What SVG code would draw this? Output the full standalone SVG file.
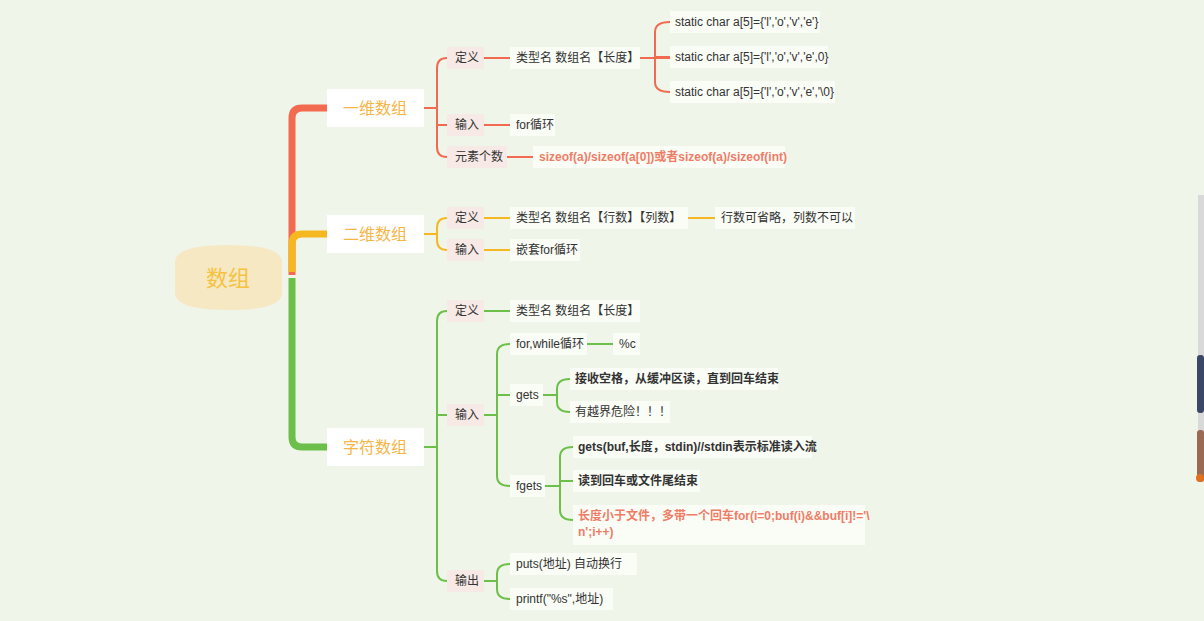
<svg xmlns="http://www.w3.org/2000/svg" width="1204" height="621" viewBox="0 0 1204 621">
<style>
text{font-family:"Liberation Sans","Noto Sans CJK SC",sans-serif;font-size:12px;fill:#333;dominant-baseline:central}
.b{fill:#fafcf6}
.l{fill:#f7e9e6}
.bold{font-weight:bold}
.rt{fill:#ef7c66;font-weight:bold}
.h{font-size:16px;text-anchor:middle}
.r{stroke:#f26b50}.y{stroke:#f5b820}.g{stroke:#6cc04a}
#c path{fill:none;stroke-width:2}
</style>
<rect width="1204" height="621" fill="#f0f5e9"/>
<rect x="1198" y="195" width="6" height="285" fill="#d9d9d9"/>
<rect x="1197" y="355" width="7" height="58" rx="3" fill="#3b4766"/>
<rect x="1197" y="430" width="7" height="52" rx="3" fill="#9a6a55"/>
<circle cx="1200" cy="478" r="4" fill="#e2701f"/>
<g id="c">
<path class="r" d="M292 275V118Q292 108 302 108H327" style="stroke-width:7"/>
<path class="y" d="M292 272V244Q292 234 302 234H327" style="stroke-width:7"/>
<path class="g" d="M292 278V437Q292 447 302 447H327" style="stroke-width:7"/>
<path class="r" d="M424 108H437M447 58H447Q437 58 437 68V147Q437 157 447 157M437 125H447M484 58H510M484 125H510M507 157H533M640 58H670M670 22Q655 22 655 32V82Q655 92 670 92M655 57H670"/>
<path class="y" d="M424 234H437M447 218Q437 218 437 228V240Q437 250 447 250M484 218H510M484 250H510M688 218H715"/>
<path class="g" d="M424 447H437M447 311Q437 311 437 321V571Q437 581 447 581M437 415H447M484 311H510M484 415H497M510 344Q497 344 497 354V476Q497 486 510 486M497 395H510M587 344H613M543 395H557M570 379Q557 379 557 389V402Q557 412 570 412M545 486H560M573 447Q560 447 560 457V510Q560 520 573 520M560 481H573M484 581H497M510 564Q497 564 497 574V589Q497 599 510 599"/>
</g>
<g id="root"><path d="M175 262Q175 245 228 245Q282 245 282 262V293Q282 310 228 310Q175 310 175 293Z" fill="#f6e8c3"/><text x="228" y="278" class="h" style="font-size:22px;fill:#f5c242">数组</text></g>
<g id="n1"><rect x="327" y="89" width="97" height="38" fill="#fff"/><text x="375" y="108" class="h" style="fill:#f5b547">一维数组</text></g>
<g id="n2"><rect x="327" y="215" width="97" height="38" fill="#fff"/><text x="375" y="234" class="h" style="fill:#f5b547">二维数组</text></g>
<g id="n3"><rect x="327" y="428" width="97" height="38" fill="#fff"/><text x="375" y="447" class="h" style="fill:#f5b547">字符数组</text></g>
<g id="a1"><rect class="l" x="447" y="47" width="37" height="22"/><text x="455" y="58">定义</text></g>
<g id="a2"><rect class="b" x="510" y="47" width="130" height="22"/><text x="516" y="58">类型名  数组名【长度】</text></g>
<g id="a3"><rect class="b" x="670" y="11" width="150" height="22"/><text x="675" y="22">static char a[5]={'l','o','v','e'}</text></g>
<g id="a4"><rect class="b" x="670" y="46" width="158" height="22"/><text x="675" y="57">static char a[5]={'l','o','v','e',0}</text></g>
<g id="a5"><rect class="b" x="670" y="81" width="165" height="22"/><text x="675" y="92">static char a[5]={'l','o','v','e','\0}</text></g>
<g id="a6"><rect class="l" x="447" y="114" width="37" height="22"/><text x="455" y="125">输入</text></g>
<g id="a7"><rect class="b" x="510" y="114" width="45" height="22"/><text x="516" y="125">for循环</text></g>
<g id="a8"><rect class="l" x="447" y="146" width="60" height="22"/><text x="455" y="157">元素个数</text></g>
<g id="a9"><rect class="b" x="533" y="146" width="252" height="22"/><text x="539" y="157" class="rt">sizeof(a)/sizeof(a[0])或者sizeof(a)/sizeof(int)</text></g>
<g id="b1"><rect class="l" x="447" y="207" width="37" height="22"/><text x="455" y="218">定义</text></g>
<g id="b2"><rect class="b" x="510" y="207" width="178" height="22"/><text x="516" y="218">类型名  数组名【行数】【列数】</text></g>
<g id="b3"><rect class="b" x="715" y="207" width="140" height="22"/><text x="721" y="218">行数可省略，列数不可以</text></g>
<g id="b4"><rect class="l" x="447" y="239" width="37" height="22"/><text x="455" y="250">输入</text></g>
<g id="b5"><rect class="b" x="510" y="239" width="70" height="22"/><text x="516" y="250">嵌套for循环</text></g>
<g id="c1"><rect class="l" x="447" y="300" width="37" height="22"/><text x="455" y="311">定义</text></g>
<g id="c2"><rect class="b" x="510" y="300" width="130" height="22"/><text x="516" y="311">类型名  数组名【长度】</text></g>
<g id="c3"><rect class="l" x="447" y="404" width="37" height="22"/><text x="455" y="415">输入</text></g>
<g id="c4"><rect class="b" x="510" y="333" width="77" height="22"/><text x="516" y="344">for,while循环</text></g>
<g id="c5"><rect class="b" x="613" y="333" width="27" height="22"/><text x="619" y="344">%c</text></g>
<g id="c6"><rect class="b" x="510" y="384" width="33" height="22"/><text x="516" y="395">gets</text></g>
<g id="c7"><rect class="b" x="570" y="368" width="208" height="22"/><text x="575" y="379" class="bold">接收空格，从缓冲区读，直到回车结束</text></g>
<g id="c8"><rect class="b" x="570" y="401" width="100" height="22"/><text x="575" y="412">有越界危险！！！</text></g>
<g id="c9"><rect class="b" x="510" y="475" width="35" height="22"/><text x="516" y="486">fgets</text></g>
<g id="c10"><rect class="b" x="573" y="436" width="239" height="22"/><text x="578" y="447" class="bold">gets(buf,长度，stdin)//stdin表示标准读入流</text></g>
<g id="c11"><rect class="b" x="573" y="470" width="127" height="22"/><text x="578" y="481" class="bold">读到回车或文件尾结束</text></g>
<g id="c12"><rect class="b" x="573" y="505" width="292" height="40"/><text x="578" y="516" class="rt">长度小于文件，多带一个回车for(i=0;buf(i)&amp;&amp;buf[i]!='\</text><text x="578" y="532" class="rt">n';i++)</text></g>
<g id="c13"><rect class="l" x="447" y="570" width="37" height="22"/><text x="455" y="581">输出</text></g>
<g id="c14"><rect class="b" x="510" y="553" width="127" height="22"/><text x="516" y="564">puts(地址)     自动换行</text></g>
<g id="c15"><rect class="b" x="510" y="588" width="103" height="22"/><text x="516" y="599">printf("%s",地址)</text></g>
</svg>
